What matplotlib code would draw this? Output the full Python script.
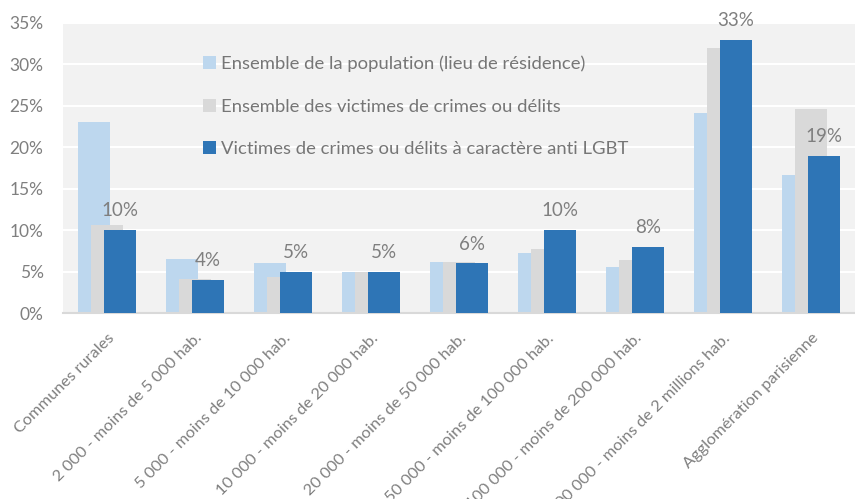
import numpy as np
import matplotlib
matplotlib.use("Agg")
import matplotlib.pyplot as plt
from matplotlib.patches import Patch

plt.rcParams['font.family'] = ['Lato', 'DejaVu Sans']

categories = ['Communes rurales',
              '2 000 - moins de 5 000 hab.',
              '5 000 - moins de 10 000 hab.',
              '10 000 - moins de 20 000 hab.',
              '20 000 - moins de 50 000 hab.',
              '50 000 - moins de 100 000 hab.',
              '100 000 - moins de 200 000 hab.',
              '200 000 - moins de 2 millions hab.',
              'Agglomération parisienne']
population = [23.0, 6.5, 6.0, 5.0, 6.2, 7.2, 5.5, 24.1, 16.7]
victimes = [10.6, 4.1, 4.4, 4.9, 6.2, 7.7, 6.4, 32.0, 24.6]
lgbt = [10, 4, 5, 5, 6, 10, 8, 33, 19]
series_names = ['Ensemble de la population (lieu de résidence)',
                'Ensemble des victimes de crimes ou délits',
                'Victimes de crimes ou délits à caractère anti LGBT']
colors = ['#BDD7EE', '#D9D9D9', '#2E75B6']
text_gray = '#7F7F7F'

fig = plt.figure(figsize=(8.55, 4.99), dpi=100)
ax = fig.add_axes([0.0737, 0.3727, 0.9263, 0.5813])
ax.set_facecolor('#F2F2F2')

x = np.arange(len(categories))
w = 0.365
off = 0.145
ax.bar(x - off, population, w, color=colors[0], zorder=2)
ax.bar(x, victimes, w, color=colors[1], zorder=3)
ax.bar(x + off, lgbt, w, color=colors[2], zorder=4)

for xi, v in zip(x, lgbt):
    ax.text(xi + off, v + 1.3, f'{v}%', ha='center', va='bottom',
            fontsize=13.5, color=text_gray, zorder=5)

ax.set_xlim(-0.5, len(categories) - 0.5)
ax.set_ylim(0, 35)
ax.set_yticks(range(0, 36, 5))
ax.set_yticklabels([f'{t}%' for t in range(0, 36, 5)])
ax.yaxis.grid(True, color='white', linewidth=1.5, zorder=1)
ax.set_axisbelow(True)
for s in ['top', 'right', 'left']:
    ax.spines[s].set_visible(False)
ax.spines['bottom'].set_color('#D9D9D9')
ax.spines['bottom'].set_linewidth(1.5)
ax.tick_params(axis='y', length=0, labelsize=12.5, labelcolor=text_gray, pad=14)
ax.set_xticks(x)
ax.set_xticklabels(categories, rotation=45, ha='right', va='top',
                   rotation_mode='anchor')
ax.tick_params(axis='x', length=0, labelsize=11.8, labelcolor=text_gray, pad=13)

handles = [Patch(facecolor=c, edgecolor='none') for c in colors]
leg = ax.legend(handles, series_names, loc='upper left',
                bbox_to_anchor=(0.165, 0.92), frameon=False,
                fontsize=13.3, labelcolor='#767676', labelspacing=1.44,
                handlelength=0.7, handleheight=0.7, handletextpad=0.3,
                borderpad=0)

fig.savefig('out.png', dpi=100)
